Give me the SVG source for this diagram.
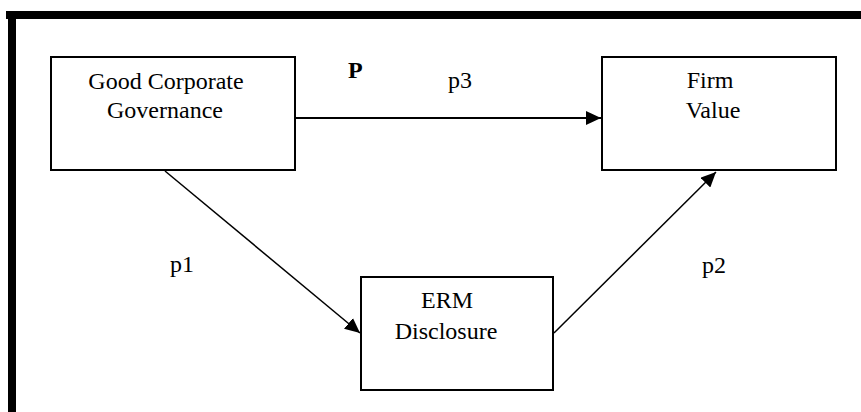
<svg xmlns="http://www.w3.org/2000/svg" width="861" height="412" viewBox="0 0 861 412">
<style>
.box{fill:#fff;stroke:#000;stroke-width:2}
text{font-family:'Liberation Serif',serif;font-size:24px;fill:#000}
.t{text-anchor:middle}
.edge{stroke:#000;stroke-width:2;fill:none;marker-end:url(#ah)}
.thin{stroke-width:1.5}
</style>
<defs>
<marker id="ah" markerUnits="userSpaceOnUse" markerWidth="16" markerHeight="14" refX="15" refY="7" orient="auto">
<path d="M0,0 L15,7 L0,14 Z" fill="#000"/>
</marker>
</defs>
<rect width="861" height="412" fill="#fff"/>
<g id="frame">
<rect x="6" y="11" width="855" height="8" fill="#000"/>
<rect x="8" y="11" width="8" height="401" fill="#000"/>
</g>
<g id="connectors">
<line class="edge" x1="296" y1="118" x2="601" y2="118"/>
<line class="edge thin" x1="165" y1="171" x2="360" y2="333"/>
<line class="edge thin" x1="554" y1="333" x2="716" y2="172"/>
</g>
<g id="gcg">
<rect class="box" x="51" y="57" width="244" height="113"/>
<text class="t" x="166" y="89" font-family="Liberation Serif, serif">Good Corporate</text>
<text class="t" x="165" y="118" font-family="Liberation Serif, serif">Governance</text>
</g>
<g id="firm">
<rect class="box" x="602" y="57" width="234" height="113"/>
<text class="t" x="710" y="88" font-family="Liberation Serif, serif">Firm</text>
<text class="t" x="713" y="118" font-family="Liberation Serif, serif">Value</text>
</g>
<g id="erm">
<rect class="box" x="361" y="277" width="192" height="113"/>
<text class="t" x="447" y="308" font-family="Liberation Serif, serif">ERM</text>
<text class="t" x="446" y="339" font-family="Liberation Serif, serif">Disclosure</text>
</g>
<g id="labels">
<text x="348" y="78" font-family="Liberation Serif, serif" font-weight="bold" font-size="20">P</text>
<text x="448" y="88" font-family="Liberation Serif, serif">p3</text>
<text x="170" y="272" font-family="Liberation Serif, serif">p1</text>
<text x="702" y="273" font-family="Liberation Serif, serif">p2</text>
</g>
</svg>
